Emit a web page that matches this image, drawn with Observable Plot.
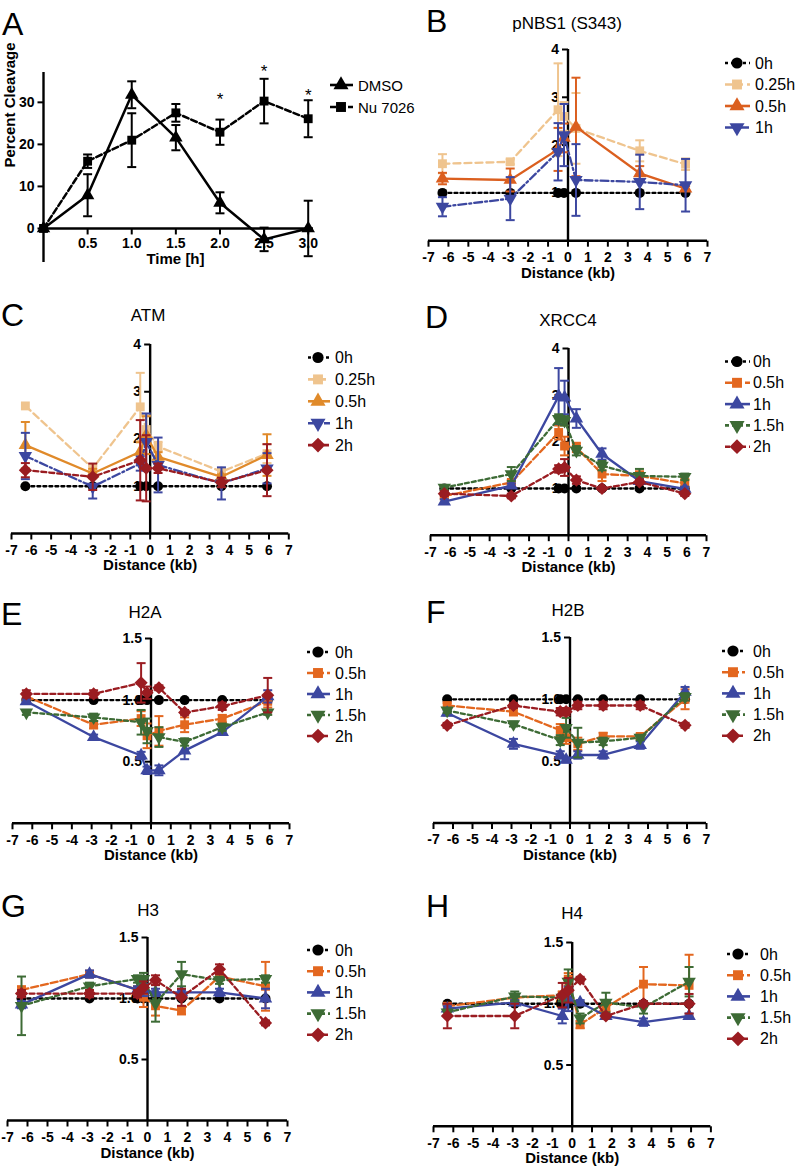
<!DOCTYPE html>
<html><head><meta charset="utf-8">
<script src="https://cdn.jsdelivr.net/npm/d3@7"></script>
<script src="https://cdn.jsdelivr.net/npm/@observablehq/plot@0.6"></script>
<style>
html,body{margin:0;padding:0;background:#fff;}
#page{position:relative;width:796px;height:1169px;overflow:hidden;background:#fff;}
#page svg{position:absolute;}
</style></head><body><div id="page"></div>
<script>
// ---------------- DATA ----------------
// Panel A
const timeH = [0, 0.5, 1.0, 1.5, 2.0, 2.5, 3.0];
const dmso = [0, 7.9, 31.8, 21.6, 6.1, -2.6, 0];
const dmsoErr = [0, 5.0, 3.2, 3.0, 2.5, 2.8, 6.6];
const nu7026 = [0, 16.0, 21.0, 27.5, 22.9, 30.3, 26.1];
const nu7026Err = [0, 1.6, 6.4, 2.1, 3.0, 5.3, 4.4];
const sigTimes = [2.0, 2.5, 3.0];
const sigMarkY = [31.8, 38.4, 32.7];
const timeTicks = [0.5, 1.0, 1.5, 2.0, 2.5, 3.0];
const cleavageTicks = [0, 10, 20, 30];

// Distance positions (kb)
const distBC = [-6.3, -2.9, -0.5, -0.2, 0.4, 3.6, 5.9];
const distDH = [-6.3, -2.9, -0.5, -0.2, 0.4, 1.7, 3.6, 5.9];
const distTicks = [-7, -6, -5, -4, -3, -2, -1, 0, 1, 2, 3, 4, 5, 6, 7];
const foldTicks4 = [1, 2, 3, 4];
const foldTicks15 = [0.5, 1.0, 1.5];

// Panel B  pNBS1 (S343)
const B_0h = [1, 1, 1, 1, 1, 1, 1];
const B_025h = [1.61, 1.65, 2.74, 2.60, 2.35, 1.88, 1.60];
const B_025h_err = [0.20, 0.05, 0.97, 0.30, 0.74, 0.22, 0.12];
const B_05h = [1.30, 1.27, 1.91, 2.15, 2.38, 1.41, 1.09];
const B_05h_err = [0.12, 0.24, 0.45, 0.30, 1.03, 0.15, 0.05];
const B_1h = [0.71, 0.88, 1.86, 2.21, 1.27, 1.23, 1.16];
const B_1h_err = [0.20, 0.45, 0.60, 0.65, 0.75, 0.57, 0.55];

// Panel C  ATM
const C_0h = [1, 1, 1, 1, 1, 1, 1];
const C_025h = [2.70, 1.38, 2.68, 2.20, 1.84, 1.31, 1.69];
const C_025h_err = [0, 0.05, 0.72, 0.30, 0.10, 0.05, 0.20];
const C_05h = [1.87, 1.27, 1.73, 2.08, 1.62, 1.20, 1.66];
const C_05h_err = [0.49, 0.10, 0.20, 0.40, 0.10, 0.05, 0.44];
const C_1h = [1.64, 0.99, 1.48, 1.94, 1.45, 1.06, 1.38];
const C_1h_err = [0.49, 0.25, 0.15, 0.60, 0.58, 0.34, 0.32];
const C_2h = [1.34, 1.20, 1.55, 1.38, 1.38, 1.08, 1.34];
const C_2h_err = [0.15, 0.28, 0.85, 0.70, 0.10, 0.10, 0.55];

// Panel D  XRCC4
const D_0h = [1, 1, 1, 1, 1, 1, 1, 1];
const D_05h = [0.84, 1.13, 2.20, 1.91, 1.88, 1.31, 1.27, 1.11];
const D_05h_err = [0.05, 0.05, 0.15, 0.20, 0.10, 0.15, 0.10, 0.10];
const D_1h = [0.72, 1.06, 2.98, 2.95, 2.50, 1.74, 1.16, 0.99];
const D_1h_err = [0.05, 0.05, 0.60, 0.36, 0.20, 0.12, 0.05, 0.05];
const D_15h = [1.02, 1.31, 2.49, 2.45, 1.81, 1.49, 1.27, 1.25];
const D_15h_err = [0.05, 0.15, 0.10, 0.10, 0.10, 0.10, 0.15, 0.07];
const D_2h = [0.89, 0.84, 1.42, 1.45, 1.18, 1.00, 1.14, 0.89];
const D_2h_err = [0.05, 0.05, 0.08, 0.18, 0.08, 0.03, 0.05, 0.05];

// Panel E  H2A
const E_0h = [1, 1, 1, 1, 1, 1, 1, 1];
const E_05h = [1.03, 0.80, 0.85, 0.71, 0.75, 0.80, 0.85, 0.99];
const E_05h_err = [0.02, 0.03, 0.06, 0.10, 0.12, 0.06, 0.03, 0.05];
const E_1h = [0.99, 0.70, 0.55, 0.43, 0.43, 0.59, 0.74, 1.03];
const E_1h_err = [0.02, 0.02, 0.03, 0.03, 0.04, 0.07, 0.02, 0.05];
const E_15h = [0.90, 0.86, 0.82, 0.75, 0.70, 0.66, 0.78, 0.90];
const E_15h_err = [0.02, 0.03, 0.10, 0.10, 0.08, 0.03, 0.03, 0.02];
const E_2h = [1.05, 1.05, 1.14, 1.06, 1.10, 0.90, 0.95, 1.04];
const E_2h_err = [0.03, 0.03, 0.16, 0.05, 0.02, 0.02, 0.03, 0.14];

// Panel F  H2B
const F_0h = [1, 1, 1, 1, 1, 1, 1, 1];
const F_05h = [0.95, 0.90, 0.75, 0.69, 0.64, 0.70, 0.70, 1.00];
const F_05h_err = [0.02, 0.03, 0.05, 0.05, 0.05, 0.03, 0.02, 0.08];
const F_1h = [0.89, 0.64, 0.55, 0.51, 0.55, 0.55, 0.63, 1.06];
const F_1h_err = [0.02, 0.04, 0.03, 0.02, 0.03, 0.03, 0.03, 0.04];
const F_15h = [0.91, 0.80, 0.67, 0.77, 0.65, 0.66, 0.69, 1.02];
const F_15h_err = [0.02, 0.02, 0.04, 0.08, 0.12, 0.03, 0.02, 0.03];
const F_2h = [0.79, 0.95, 0.90, 0.90, 0.95, 0.95, 0.95, 0.79];
const F_2h_err = [0.02, 0.02, 0.03, 0.03, 0.03, 0.03, 0.03, 0.02];

// Panel G  H3
const G_0h = [1, 1, 1, 1, 1, 1, 1, 1];
const G_05h = [1.07, 1.20, 1.07, 1.01, 0.94, 0.90, 1.18, 1.10];
const G_05h_err = [0.03, 0.02, 0.03, 0.08, 0.08, 0.03, 0.03, 0.20];
const G_1h = [0.95, 1.20, 1.07, 1.07, 1.05, 1.05, 1.05, 1.00];
const G_1h_err = [0.03, 0.03, 0.03, 0.05, 0.03, 0.02, 0.03, 0.08];
const G_15h = [0.94, 1.10, 1.16, 1.16, 0.96, 1.20, 1.15, 1.16];
const G_15h_err = [0.24, 0.03, 0.03, 0.05, 0.15, 0.10, 0.03, 0.03];
const G_2h = [1.04, 1.04, 1.04, 1.09, 1.15, 1.01, 1.24, 0.80];
const G_2h_err = [0.03, 0.03, 0.03, 0.05, 0.04, 0.07, 0.04, 0.02];

// Panel H  H4
const H_0h = [1, 1, 1, 1, 1, 1, 1, 1];
const H_05h = [0.98, 1.05, 1.07, 1.20, 0.83, 0.97, 1.16, 1.15];
const H_05h_err = [0.02, 0.02, 0.03, 0.05, 0.03, 0.03, 0.14, 0.25];
const H_1h = [0.96, 1.01, 0.90, 1.04, 1.01, 0.90, 0.85, 0.90];
const H_1h_err = [0.02, 0.02, 0.06, 0.10, 0.02, 0.02, 0.03, 0.02];
const H_15h = [0.93, 1.06, 1.05, 1.18, 0.88, 1.01, 0.97, 1.18];
const H_15h_err = [0.02, 0.04, 0.03, 0.10, 0.04, 0.08, 0.05, 0.12];
const H_2h = [0.90, 0.90, 1.07, 1.11, 1.20, 0.90, 1.00, 1.00];
const H_2h_err = [0.10, 0.10, 0.10, 0.10, 0.02, 0.02, 0.02, 0.08];

// ---------------- STYLE ----------------
const FONT = '"Liberation Sans", Arial, Helvetica, sans-serif';
const BLACK = "#000000", TAN = "#efc48e", ORANGE_B = "#db5f1f", ORANGE_C = "#e08a2a",
      ORANGE = "#e3671f", BLUE = "#3c47a0", GREEN = "#3d6b35", RED = "#9a1c21";

const triDown = {draw(ctx, size) {
  const a = Math.sqrt(4 * size / Math.sqrt(3)), h = a * Math.sqrt(3) / 2;
  ctx.moveTo(0, 2 * h / 3); ctx.lineTo(-a / 2, -h / 3); ctx.lineTo(a / 2, -h / 3); ctx.closePath();
}};
const diamondSym = {draw(ctx, size) {
  const r = Math.sqrt(size / 2) * 1.05;
  ctx.moveTo(0, -r); ctx.lineTo(r, 0); ctx.lineTo(0, r); ctx.lineTo(-r, 0); ctx.closePath();
}};
const capSym = {draw(ctx) { ctx.moveTo(-4.5, 0); ctx.lineTo(4.5, 0); }};
const tickDownSym = {draw(ctx) { ctx.moveTo(0, 0); ctx.lineTo(0, 6); }};
const tickLeftSym = {draw(ctx) { ctx.moveTo(0, 0); ctx.lineTo(-6, 0); }};
const SYM = {circle: d3.symbolCircle, square: d3.symbolSquare, triangle: d3.symbolTriangle, triDown, diamond: diamondSym};
const MR = 5; // marker radius

function seriesMarks(xs, s, lw) {
  const rows = xs.map((x, i) => ({x, y: s.vals[i], e: s.errs ? s.errs[i] : 0}));
  const er = rows.filter(d => d.e > 0);
  const w = lw || 2.3;
  return [
    Plot.ruleX(er, {x: "x", y1: d => d.y - d.e, y2: d => d.y + d.e, stroke: s.color, strokeWidth: 2}),
    Plot.dot(er, {x: "x", y: d => d.y + d.e, symbol: capSym, stroke: s.color, fill: "none", strokeWidth: 2, r: 3}),
    Plot.dot(er, {x: "x", y: d => d.y - d.e, symbol: capSym, stroke: s.color, fill: "none", strokeWidth: 2, r: 3}),
    Plot.line(rows, {x: "x", y: "y", stroke: s.color, strokeWidth: w, strokeDasharray: s.dash || null}),
    Plot.dot(rows, {x: "x", y: "y", symbol: SYM[s.sym], fill: s.color, stroke: "none", r: MR})
  ];
}

const page = document.getElementById("page");

function drawPanel(cfg) {
  const [fl, ft, fr, fb] = cfg.frame;
  const ml = cfg.ml ?? 40, mr = cfg.mr ?? 15, mt = cfg.mt ?? 20, mb = cfg.mb ?? 50;
  const marks = [
    Plot.ruleY([cfg.xAxisY], {stroke: BLACK, strokeWidth: 2.4}),
    Plot.ruleX([cfg.yAxisX], {stroke: BLACK, strokeWidth: 2.4}),
    Plot.dot(cfg.xTicks, {x: d => d, y: () => cfg.xAxisY, symbol: tickDownSym, stroke: BLACK, fill: "none", strokeWidth: 2, r: 3}),
    Plot.text(cfg.xTicks, {x: d => d, y: () => cfg.xAxisY, text: cfg.xFmt, dy: cfg.xLabelDy, fontSize: 14, fontWeight: "bold", fill: BLACK}),
    Plot.dot(cfg.yTicks, {x: () => cfg.yAxisX, y: d => d, symbol: tickLeftSym, stroke: BLACK, fill: "none", strokeWidth: 2, r: 3}),
    Plot.text(cfg.yTicks, {x: () => cfg.yAxisX, y: d => d, text: cfg.yFmt, dx: -9, textAnchor: "end", fontSize: 14, fontWeight: "bold", fill: BLACK})
  ];
  for (const s of cfg.series) marks.push(...seriesMarks(cfg.xs, s, cfg.lineWidth));
  marks.push(...(cfg.extra || []));
  const svg = Plot.plot({
    width: (fr - fl) + ml + mr,
    height: (fb - ft) + mt + mb,
    marginLeft: ml, marginRight: mr, marginTop: mt, marginBottom: mb,
    x: {domain: cfg.xDomain, axis: null},
    y: {domain: cfg.yDomain, axis: null},
    style: {fontFamily: FONT, overflow: "visible", background: "transparent", maxWidth: "none"},
    marks
  });
  svg.style.left = (fl - ml) + "px";
  svg.style.top = (ft - mt) + "px";
  page.appendChild(svg);
}

// ---------------- PANEL A ----------------
drawPanel({
  frame: [43, 72, 313, 262], ml: 43, mr: 10, mt: 20, mb: 20,
  xDomain: [0, 3.06], yDomain: [-8.1, 37.1],
  xAxisY: 0, yAxisX: 0,
  xTicks: timeTicks, xFmt: d => d.toFixed(1), xLabelDy: 15.5,
  yTicks: cleavageTicks, yFmt: d => String(d),
  xs: timeH, lineWidth: 2.5,
  series: [
    {label: "DMSO", vals: dmso, errs: dmsoErr, color: BLACK, dash: null, sym: "triangle"},
    {label: "Nu 7026", vals: nu7026, errs: nu7026Err, color: BLACK, dash: "6,3", sym: "square"}
  ],
  extra: [
    Plot.text(sigTimes, {x: d => d, y: (d, i) => sigMarkY[i], text: () => "*", fontSize: 17, dy: 5, fill: BLACK}),
    Plot.text(["Percent Cleavage"], {frameAnchor: "left", dx: -33, rotate: -90, fontSize: 15, fontWeight: "bold", fill: BLACK}),
    Plot.text(["Time [h]"], {frameAnchor: "bottom", dx: -3, dy: 1, fontSize: 15, fontWeight: "bold", fill: BLACK})
  ]
});

function distPanel(frame, yDomain, yTicks, yFmt, xs, series) {
  drawPanel({
    frame, xDomain: [-7, 7], yDomain,
    xAxisY: 0, yAxisX: 0,
    xTicks: distTicks, xFmt: d => String(d), xLabelDy: 17,
    yTicks, yFmt, xs, series,
    extra: [Plot.text(["Distance (kb)"], {frameAnchor: "bottom", dy: 37, fontSize: 15, fontWeight: "bold", fill: BLACK})]
  });
}
const f1 = d => d.toFixed(1), f0 = d => String(d);

const seriesB = [
  {label: "0h", vals: B_0h, errs: null, color: BLACK, dash: "3,3", sym: "circle"},
  {label: "0.25h", vals: B_025h, errs: B_025h_err, color: TAN, dash: "7,4", sym: "square"},
  {label: "0.5h", vals: B_05h, errs: B_05h_err, color: ORANGE_B, dash: null, sym: "triangle"},
  {label: "1h", vals: B_1h, errs: B_1h_err, color: BLUE, dash: "8,3,2,3", sym: "triDown"}
];
const seriesC = [
  {label: "0h", vals: C_0h, errs: null, color: BLACK, dash: "3,3", sym: "circle"},
  {label: "0.25h", vals: C_025h, errs: C_025h_err, color: TAN, dash: "7,4", sym: "square"},
  {label: "0.5h", vals: C_05h, errs: C_05h_err, color: ORANGE_C, dash: null, sym: "triangle"},
  {label: "1h", vals: C_1h, errs: C_1h_err, color: BLUE, dash: "8,3,2,3", sym: "triDown"},
  {label: "2h", vals: C_2h, errs: C_2h_err, color: RED, dash: "5,3", sym: "diamond"}
];
function histSeries(h0, h05, e05, h1, e1, h15, e15, h2, e2) {
  return [
    {label: "0h", vals: h0, errs: null, color: BLACK, dash: "3,3", sym: "circle"},
    {label: "0.5h", vals: h05, errs: e05, color: ORANGE, dash: "7,3", sym: "square"},
    {label: "1h", vals: h1, errs: e1, color: BLUE, dash: null, sym: "triangle"},
    {label: "1.5h", vals: h15, errs: e15, color: GREEN, dash: "4,3", sym: "triDown"},
    {label: "2h", vals: h2, errs: e2, color: RED, dash: "5,3", sym: "diamond"}
  ];
}
const seriesD = histSeries(D_0h, D_05h, D_05h_err, D_1h, D_1h_err, D_15h, D_15h_err, D_2h, D_2h_err);
const seriesE = histSeries(E_0h, E_05h, E_05h_err, E_1h, E_1h_err, E_15h, E_15h_err, E_2h, E_2h_err);
const seriesF = histSeries(F_0h, F_05h, F_05h_err, F_1h, F_1h_err, F_15h, F_15h_err, F_2h, F_2h_err);
const seriesG = histSeries(G_0h, G_05h, G_05h_err, G_1h, G_1h_err, G_15h, G_15h_err, G_2h, G_2h_err);
const seriesH = histSeries(H_0h, H_05h, H_05h_err, H_1h, H_1h_err, H_15h, H_15h_err, H_2h, H_2h_err);

distPanel([428, 49.3, 707, 240.5], [0, 4], foldTicks4, f0, distBC, seriesB);
distPanel([11, 344.3, 288.3, 533.3], [0, 4], foldTicks4, f0, distBC, seriesC);
distPanel([430, 347.7, 706, 534.4], [0, 4], foldTicks4, f0, distDH, seriesD);
distPanel([12.3, 637.7, 289.3, 822.5], [0, 1.5], foldTicks15, f1, distDH, seriesE);
distPanel([432.7, 637, 705.7, 822.5], [0, 1.5], foldTicks15, f1, distDH, seriesF);
distPanel([7.3, 937.3, 287.3, 1120.3], [0, 1.5], foldTicks15, f1, distDH, seriesG);
distPanel([433.3, 941.7, 710.7, 1125.5], [0, 1.5], foldTicks15, f1, distDH, seriesH);

// ---------------- OVERLAY: letters, titles, legends ----------------
const ov = d3.select(page).append("svg")
  .attr("width", 796).attr("height", 1169)
  .style("left", "0px").style("top", "0px").style("pointer-events", "none")
  .style("font-family", FONT);

const letters = [["A", 2, 35], ["B", 426, 32], ["C", 1, 326], ["D", 425, 328],
                 ["E", 1, 625], ["F", 426, 623], ["G", 1, 917], ["H", 426, 917]];
for (const [t, x, y] of letters)
  ov.append("text").attr("x", x).attr("y", y).attr("font-size", 32).attr("fill", BLACK).text(t);

const titles = [["pNBS1 (S343)", 567, 23], ["ATM", 148, 315], ["XRCC4", 568, 320], ["H2A", 145, 612],
                ["H2B", 568, 610], ["H3", 148, 910], ["H4", 572, 913]];
for (const [t, x, y] of titles)
  ov.append("text").attr("x", x).attr("y", y).attr("text-anchor", "middle")
    .attr("dominant-baseline", "central").attr("font-size", 17).attr("fill", BLACK).text(t);

function legend(items, lx1, lx2, sx, tx, y0, dy, fs) {
  items.forEach((s, i) => {
    const y = y0 + i * dy;
    ov.append("line").attr("x1", lx1).attr("x2", lx2).attr("y1", y).attr("y2", y)
      .attr("stroke", s.color).attr("stroke-width", 2.6).attr("stroke-dasharray", s.dash || null);
    ov.append("path").attr("d", d3.symbol(SYM[s.sym], Math.PI * 5.6 * 5.6)())
      .attr("transform", `translate(${sx},${y})`).attr("fill", s.color);
    ov.append("text").attr("x", tx).attr("y", y).attr("dominant-baseline", "central")
      .attr("font-size", fs).attr("fill", BLACK).text(s.label);
  });
}
legend([
  {label: "DMSO", color: BLACK, dash: null, sym: "triangle"},
  {label: "Nu 7026", color: BLACK, dash: "6,3", sym: "square"}
], 330, 353, 341, 358, 85, 22, 15);
legend(seriesB, 725, 750, 737, 755, 63, 21.5, 16);
legend(seriesC, 308, 330, 318, 335, 357.5, 21.9, 16);
legend(seriesD, 725, 750, 737, 753, 361.5, 21.3, 16);
legend(seriesE, 307, 330, 318, 335, 652, 21, 16);
legend(seriesF, 722, 745, 733, 753, 651, 21.2, 16);
legend(seriesG, 307, 330, 318, 335, 950, 21.2, 16);
legend(seriesH, 727, 750, 738, 760, 954, 21.2, 16);
</script></body></html>
